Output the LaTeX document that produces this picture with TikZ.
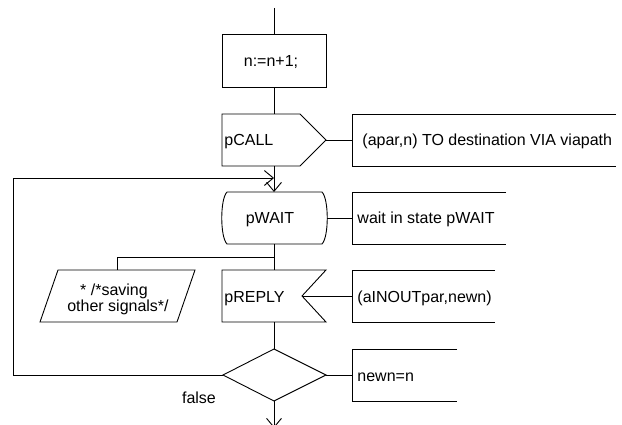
\documentclass[tikz,border=0pt]{standalone}
\usepackage{fontspec}
\setmainfont{Liberation Sans}
\usetikzlibrary{arrows.meta}
\begin{document}
\begin{tikzpicture}[x=1pt,y=-1pt, line width=0.9pt,
  every node/.style={font=\fontsize{16}{18}\selectfont, inner sep=0pt},
  lbl/.style={anchor=base west},
  ctr/.style={anchor=base},
  arr/.style={-{Straight Barb[length=9pt,width=15pt]}},
]
\useasboundingbox (0,0) rectangle (622,425);

% coordinates
\coordinate (top) at (274,8);
\coordinate (pcallN) at (274,114);
\coordinate (pcallS) at (274,166);
\coordinate (pcallE) at (326,140);
\coordinate (c1W) at (352,140);
\coordinate (waitN) at (274,192);
\coordinate (waitS) at (274,244);
\coordinate (waitE) at (327,218);
\coordinate (c2W) at (352,218);
\coordinate (br) at (274,257);
\coordinate (brL) at (117,257);
\coordinate (saveN) at (117,270);
\coordinate (replyN) at (274,270);
\coordinate (replyS) at (274,322);
\coordinate (replyE) at (302,296);
\coordinate (c3W) at (352,296);
\coordinate (dN) at (274,349);
\coordinate (dS) at (274,401);
\coordinate (dE) at (326,375);
\coordinate (dW) at (223,375);
\coordinate (c4W) at (352,375);
\coordinate (loopBL) at (13,375);
\coordinate (loopTL) at (13,178);
\coordinate (loopT) at (274,178);
\coordinate (bot) at (274,428);

% task box
\node[draw, minimum width=104pt, minimum height=53pt] (task) at (274,60.5) {};
\node[ctr] (tasktxt) at (271,67) {n:=n+1;};
\draw (top) -- (task.north);

% output pCALL
\draw (222,114) -- (300,114) -- (pcallE) -- (300,166) -- (222,166) -- cycle;
\node[lbl] (pcall) at (224,146) {pCALL};
\draw (task.south) -- (pcallN);
\draw (616,114) -- (352,114) -- (352,166) -- (616,166);
\node[lbl] (c1) at (362,146) {(apar,n) TO destination VIA viapath};
\draw (pcallE) -- (c1W);

% state pWAIT
\draw (227,192) -- (322,192) .. controls (329,199) and (329,237) .. (322,244)
      -- (227,244) .. controls (220,237) and (220,199) .. (227,192);
\node[ctr] (pwait) at (270,224) {pWAIT};
\draw[arr] (pcallS) -- (waitN);
\draw (506,192) -- (352,192) -- (352,244) -- (506,244);
\node[lbl] (c2) at (357,224) {wait in state pWAIT};
\draw (waitE) -- (c2W);

% branch to save
\draw (waitS) -- (replyN);
\draw (br) -- (brL) -- (saveN);
\draw (58,270) -- (195,270) -- (177,322) -- (40,322) -- cycle;
\node[ctr] (save1) at (114,295) {* /*saving};
\node[ctr] (save2) at (118,311) {other signals*/};

% input pREPLY
\draw (222,270) -- (326,270) -- (replyE) -- (326,322) -- (222,322) -- cycle;
\node[lbl] (preply) at (224,302) {pREPLY};
\draw (495,270) -- (352,270) -- (352,322) -- (495,322);
\node[lbl] (c3) at (357,302) {(aINOUTpar,newn)};
\draw (replyE) -- (c3W);

% decision
\draw (replyS) -- (dN);
\draw (dN) -- (dE) -- (dS) -- (dW) -- cycle;
\draw (457,349) -- (352,349) -- (352,401) -- (457,401);
\node[lbl] (c4) at (357,381) {newn=n};
\draw (dE) -- (c4W);
\node[ctr] (false) at (199,403) {false};

% loop back and exit
\draw[arr] (dW) -- (loopBL) -- (loopTL) -- (loopT);
\draw[arr] (dS) -- (bot);
\end{tikzpicture}
\end{document}
